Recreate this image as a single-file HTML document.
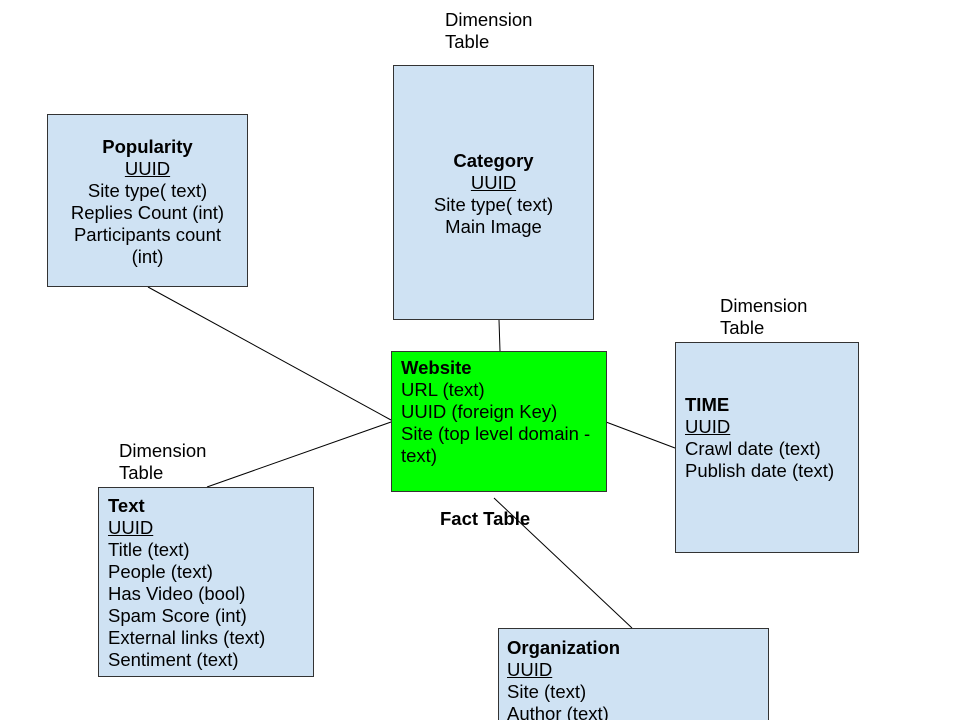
<!DOCTYPE html>
<html style="overflow:hidden;width:960px;height:720px"><head><style>
body{margin:0;width:960px;height:720px;background:#fff;position:relative;overflow:hidden;font-family:"Liberation Sans",Arial,sans-serif;font-size:18.5px;color:#000}
.b{position:absolute;background:#cfe2f3;border:1px solid #333;box-sizing:border-box;line-height:22px;white-space:nowrap}
.c{text-align:center}
.t{position:absolute;line-height:22px}
u{text-decoration:underline}
b{font-weight:bold}
svg{position:absolute;left:0;top:0}
</style></head><body>
<svg width="960" height="720"><g stroke="#000" stroke-width="1">
<line x1="148" y1="287" x2="391" y2="420"/>
<line x1="499" y1="320" x2="500" y2="351"/>
<line x1="606" y1="422" x2="675" y2="448"/>
<line x1="207" y1="487" x2="391" y2="422"/>
<line x1="494" y1="498" x2="632" y2="628"/>
</g></svg>
<div class="b c" style="left:47px;top:114px;width:201px;height:173px;padding-top:21px"><b>Popularity</b><br><u>UUID</u><br>Site type( text)<br>Replies Count (int)<br>Participants count<br>(int)</div>
<div class="b c" style="left:393px;top:65px;width:201px;height:255px;padding-top:84px"><b>Category</b><br><u>UUID</u><br>Site type( text)<br>Main Image</div>
<div class="b" style="left:391px;top:351px;width:216px;height:141px;padding:5px 0 0 9px;background:#00ff00"><b>Website</b><br>URL (text)<br>UUID (foreign Key)<br>Site (top level domain -<br>text)</div>
<div class="b" style="left:675px;top:342px;width:184px;height:211px;padding:51px 0 0 9px"><b>TIME</b><br><u>UUID</u><br>Crawl date (text)<br>Publish date (text)</div>
<div class="b" style="left:98px;top:487px;width:216px;height:190px;padding:7px 0 0 9px"><b>Text</b><br><u>UUID</u><br>Title (text)<br>People (text)<br>Has Video (bool)<br>Spam Score (int)<br>External links (text)<br>Sentiment (text)</div>
<div class="b" style="left:498px;top:628px;width:271px;height:100px;padding:8px 0 0 8px"><b>Organization</b><br><u>UUID</u><br>Site (text)<br>Author (text)</div>
<div class="t" style="left:445px;top:9px">Dimension<br>Table</div>
<div class="t" style="left:720px;top:295px">Dimension<br>Table</div>
<div class="t" style="left:119px;top:440px">Dimension<br>Table</div>
<div class="t" style="left:440px;top:508px"><b>Fact Table</b></div>
</body></html>
